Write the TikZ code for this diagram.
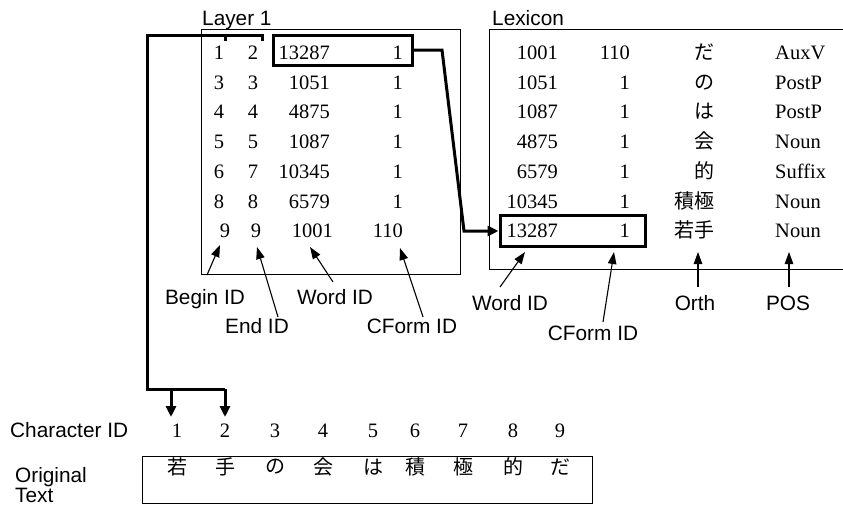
\documentclass[tikz,border=0pt]{standalone}
\usepackage{fontspec}
\setmainfont{Liberation Serif}
\setsansfont{Liberation Sans}
\newfontfamily\jpfont{Noto Sans CJK JP}
\usetikzlibrary{arrows.meta}

\begin{document}
\begin{tikzpicture}[x=1pt,y=-1pt,
  num/.style={font=\fontsize{20.5}{24}\selectfont, inner sep=0pt},
  lab/.style={font=\sffamily\fontsize{20.8}{21}\selectfont, inner sep=0pt},
  jp/.style={font=\jpfont\fontsize{20}{22}\selectfont, inner sep=0pt},
  frame/.style={draw, line width=1.2pt, inner sep=0pt},
  hl/.style={draw, line width=3pt, inner sep=0pt},
  ptr/.style={line width=1.1pt, -{Triangle[length=12pt,width=8.5pt]}},
  link/.style={line width=3pt},
  linkarrow/.style={line width=3pt, -{Triangle[length=11pt,width=10pt]}}
]
\useasboundingbox (0,0) rectangle (843,506);

% ---------- Layer 1 table ----------
\node[lab, anchor=base west] (layerT) at (202,25) {Layer 1};
\node[frame, anchor=north west, minimum width=259pt, minimum height=245pt] (layer) at (201,29) {};
\foreach \b/\e/\w/\c [count=\i from 0] in
  {1/2/13287/1, 3/3/1051/1, 4/4/4875/1, 5/5/1087/1, 6/7/10345/1, 8/8/6579/1} {
  \pgfmathsetmacro\yy{59.5+29.7*\i}
  \node[num, anchor=base] (lb\i) at (219,\yy) {\b};
  \node[num, anchor=base] (le\i) at (253,\yy) {\e};
  \node[num, anchor=base east] (lw\i) at (330,\yy) {\w};
  \node[num, anchor=base east] (lc\i) at (403,\yy) {\c};
}
\node[num, anchor=base] (lb6) at (225,237.7) {9};
\node[num, anchor=base] (le6) at (256,237.7) {9};
\node[num, anchor=base east] (lw6) at (333,237.7) {1001};
\node[num, anchor=base east] (lc6) at (403,237.7) {110};
\node[hl, minimum width=139pt, minimum height=30pt] (selL) at (342.5,50) {};

% ---------- Lexicon table ----------
\node[lab, anchor=base west] (lexT) at (492,25) {Lexicon};
\node[frame, anchor=north west, minimum width=360pt, minimum height=240pt] (lex) at (489,29) {};
\foreach \w/\c/\o/\p [count=\i from 0] in
  {1001/110/だ/AuxV, 1051/1/の/PostP, 1087/1/は/PostP, 4875/1/会/Noun,
   6579/1/的/Suffix, 10345/1/積極/Noun, 13287/1/若手/Noun} {
  \pgfmathsetmacro\yy{59.5+29.7*\i}
  \node[num, anchor=base east] (xw\i) at (558,\yy) {\w};
  \node[num, anchor=base east] (xc\i) at (630,\yy) {\c};
  \node[jp, anchor=base east] (xo\i) at (715,\yy) {\o};
  \node[num, anchor=base west] (xp\i) at (775,\yy) {\p};
}
\node[hl, minimum width=145pt, minimum height=31pt] (selX) at (572.5,230.5) {};

% link from the selected entry to its lexicon row
\coordinate (k1) at (442,50);
\coordinate (k2) at (464,231);
\draw[linkarrow] (selL.east) -- (k1) -- (k2) -- (k2 -| selX.west);

% ---------- column labels and pointers ----------
\node[lab, anchor=base] (lBegin) at (205,304) {Begin ID};
\node[lab, anchor=base] (lEnd) at (257,333) {End ID};
\node[lab, anchor=base] (lWord) at (335,304) {Word ID};
\node[lab, anchor=base] (lCForm) at (412,333) {CForm ID};
\node[lab, anchor=base] (xWord) at (510,310) {Word ID};
\node[lab, anchor=base] (xCForm) at (593,340) {CForm ID};
\node[lab, anchor=base] (xOrth) at (695,310) {Orth};
\node[lab, anchor=base] (xPOS) at (788,310) {POS};

\coordinate (sBegin) at (207,275);  \coordinate (tBegin) at (220,245);
\coordinate (sEnd) at (278,317);    \coordinate (tEnd) at (257,247);
\coordinate (sWord) at (333,282);   \coordinate (tWord) at (310,247);
\coordinate (sCForm) at (423,317);  \coordinate (tCForm) at (400,248);
\coordinate (sxWord) at (500,287);  \coordinate (txWord) at (525,252);
\coordinate (sxCForm) at (603,322); \coordinate (txCForm) at (614,252);
\coordinate (sxOrth) at (698,287);  \coordinate (txOrth) at (698,252);
\coordinate (sxPOS) at (789,287);   \coordinate (txPOS) at (789,252);
\foreach \n in {Begin,End,Word,CForm,xWord,xCForm,xOrth,xPOS}
  \draw[ptr] (s\n) -- (t\n);

% ---------- character IDs and original text ----------
\node[lab, anchor=base west] (cidT) at (10,437) {Character ID};
\node[lab, anchor=base west] (origT1) at (15,482) {Original};
\node[lab, anchor=base west] (origT2) at (15,502) {Text};
\node[frame, anchor=north west, minimum width=450pt, minimum height=47pt] (orig) at (142,456) {};
\foreach \x/\ch [count=\i] in {177/若, 225/手, 275/の, 323/会, 373/は, 415/積, 463/極, 513/的, 560/だ} {
  \node[num, anchor=base] (c\i) at (\x,437) {\i};
  \node[jp] (o\i) at (\x,467) {\ch};
}

% span bracket from the first Layer 1 entry down to its characters
\coordinate (b0) at (262,41);
\coordinate (b1) at (262,35);
\coordinate (b2) at (147,35);
\coordinate (b3) at (147,389);
\coordinate (b4) at (225,389);
\coordinate (tc1) at (171,417);
\coordinate (tc2) at (225,417);
\draw[link] (225,35) -- (225,41);
\draw[link, line join=miter] (b0) -- (b1) -- (b2) -- (b3) -- (b4);
\draw[linkarrow] (b4) -- (tc2);
\draw[linkarrow] (b3 -| tc1) -- (tc1);
\end{tikzpicture}
\end{document}
